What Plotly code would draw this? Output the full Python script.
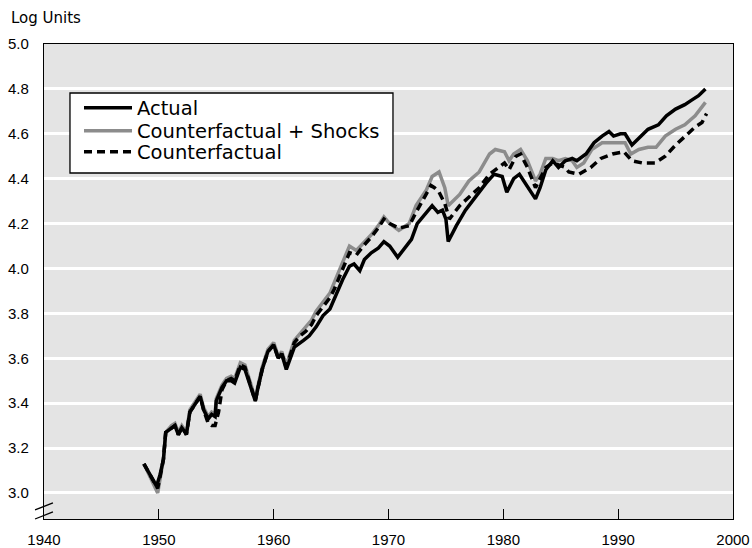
import plotly.graph_objects as go

# ---- data ----
actual_years = [1948.7, 1949.8, 1950.1, 1950.4, 1950.6, 1951.1, 1951.4, 1951.7, 1952.0, 1952.3,
                1952.4, 1952.7, 1953.2, 1953.6, 1953.9, 1954.3, 1954.6, 1954.9, 1955.0, 1955.5,
                1955.9, 1956.3, 1956.6, 1957.1, 1957.5, 1957.9, 1958.4, 1958.6, 1959.0, 1959.5,
                1960.0, 1960.4, 1960.7, 1961.1, 1961.5, 1961.8, 1962.6, 1963.1, 1963.7, 1964.3,
                1964.9, 1965.5, 1966.0, 1966.6, 1967.0, 1967.5, 1967.9, 1968.5, 1969.1, 1969.6,
                1970.1, 1970.8, 1971.4, 1972.0, 1972.5, 1973.3, 1973.8, 1974.3, 1974.7, 1975.0,
                1975.2, 1975.9, 1976.7, 1977.6, 1978.5, 1979.2, 1979.9, 1980.3, 1980.9, 1981.4,
                1981.9, 1982.8, 1983.2, 1983.7, 1984.3, 1984.8, 1985.4, 1986.0, 1986.4, 1987.2,
                1987.9, 1988.6, 1989.2, 1989.6, 1990.2, 1990.6, 1991.2, 1991.8, 1992.6, 1993.5,
                1994.2, 1995.0, 1995.8, 1996.4, 1997.0, 1997.6]
actual_values = [3.13, 3.03, 3.08, 3.15, 3.27, 3.29, 3.30, 3.26, 3.29, 3.27,
                 3.26, 3.36, 3.40, 3.43, 3.37, 3.33, 3.35, 3.34, 3.41, 3.47,
                 3.50, 3.50, 3.49, 3.56, 3.55, 3.49, 3.41, 3.46, 3.55, 3.63,
                 3.66, 3.60, 3.62, 3.55, 3.61, 3.65, 3.68, 3.70, 3.74, 3.79,
                 3.82, 3.89, 3.95, 4.01, 4.02, 3.99, 4.04, 4.07, 4.09, 4.12,
                 4.10, 4.05, 4.09, 4.13, 4.20, 4.25, 4.28, 4.25, 4.26, 4.22,
                 4.12, 4.19, 4.26, 4.32, 4.38, 4.42, 4.41, 4.34, 4.40, 4.42,
                 4.38, 4.31, 4.36, 4.44, 4.48, 4.45, 4.48, 4.49, 4.48, 4.51,
                 4.56, 4.59, 4.61, 4.59, 4.60, 4.60, 4.55, 4.58, 4.62, 4.64,
                 4.68, 4.71, 4.73, 4.75, 4.77, 4.80]

shocks_years = [1948.7, 1949.9, 1950.1, 1950.4, 1950.6, 1951.1, 1951.4, 1951.7, 1952.0, 1952.3,
                1952.4, 1952.7, 1953.2, 1953.6, 1953.9, 1954.3, 1954.6, 1954.9, 1955.0, 1955.5,
                1955.9, 1956.3, 1956.6, 1957.1, 1957.5, 1957.9, 1958.4, 1958.6, 1959.0, 1959.5,
                1960.0, 1960.4, 1960.7, 1961.1, 1961.5, 1961.8, 1962.3, 1962.8, 1963.3, 1963.7,
                1964.3, 1964.9, 1965.3, 1965.7, 1966.1, 1966.6, 1967.2, 1967.8, 1968.5, 1969.1,
                1969.6, 1970.1, 1970.9, 1971.8, 1972.4, 1973.3, 1973.8, 1974.4, 1974.9, 1975.2,
                1976.2, 1977.0, 1977.9, 1978.8, 1979.3, 1980.1, 1980.5, 1980.9, 1981.5, 1982.1,
                1982.8, 1983.2, 1983.7, 1984.3, 1984.8, 1985.4, 1986.0, 1986.4, 1987.0, 1987.7,
                1988.6, 1989.3, 1990.0, 1990.6, 1991.1, 1991.8, 1992.6, 1993.3, 1994.1, 1995.0,
                1995.8, 1996.7, 1997.6]
shocks_values = [3.13, 3.00, 3.06, 3.15, 3.27, 3.30, 3.31, 3.27, 3.30, 3.28,
                 3.27, 3.37, 3.41, 3.44, 3.38, 3.34, 3.36, 3.35, 3.42, 3.48,
                 3.51, 3.52, 3.51, 3.58, 3.57, 3.50, 3.42, 3.47, 3.56, 3.64,
                 3.67, 3.61, 3.63, 3.57, 3.63, 3.68, 3.71, 3.74, 3.77, 3.81,
                 3.85, 3.89, 3.94, 3.99, 4.04, 4.10, 4.08, 4.11, 4.15, 4.19,
                 4.23, 4.20, 4.17, 4.20, 4.28, 4.35, 4.41, 4.43, 4.36, 4.28,
                 4.33, 4.39, 4.43, 4.51, 4.53, 4.52, 4.48, 4.51, 4.53, 4.48,
                 4.39, 4.42, 4.49, 4.49, 4.48, 4.49, 4.48, 4.45, 4.47, 4.53,
                 4.56, 4.56, 4.56, 4.56, 4.51, 4.53, 4.54, 4.54, 4.59, 4.62,
                 4.64, 4.68, 4.74]

cf_years = [1948.7, 1949.9, 1950.1, 1950.4, 1950.6, 1951.1, 1951.4, 1951.7, 1952.0, 1952.3,
            1952.4, 1952.7, 1953.2, 1953.6, 1953.9, 1954.3, 1954.6, 1954.9, 1955.2, 1955.5,
            1955.9, 1956.3, 1956.6, 1957.1, 1957.5, 1957.9, 1958.4, 1958.6, 1959.0, 1959.5,
            1960.0, 1960.4, 1960.7, 1961.1, 1961.5, 1961.8, 1962.3, 1962.8, 1963.3, 1963.7,
            1964.3, 1964.9, 1965.3, 1965.7, 1966.1, 1966.6, 1967.2, 1967.8, 1968.5, 1969.1,
            1969.6, 1970.1, 1970.9, 1971.8, 1972.4, 1973.3, 1973.7, 1974.0, 1974.4, 1974.9,
            1975.3, 1976.2, 1977.0, 1977.9, 1978.8, 1979.3, 1980.1, 1980.5, 1981.1, 1981.5,
            1982.1, 1982.8, 1983.2, 1983.7, 1984.3, 1984.8, 1985.4, 1985.7, 1986.6, 1987.6,
            1988.5, 1989.5, 1990.5, 1991.2, 1992.1, 1993.2, 1994.1, 1995.0, 1995.8, 1996.7,
            1997.3, 1997.7]
cf_values = [3.13, 3.02, 3.07, 3.15, 3.27, 3.29, 3.30, 3.26, 3.29, 3.27,
             3.26, 3.36, 3.40, 3.43, 3.37, 3.31, 3.30, 3.30, 3.36, 3.46,
             3.50, 3.51, 3.50, 3.57, 3.56, 3.49, 3.41, 3.46, 3.55, 3.63,
             3.66, 3.60, 3.62, 3.56, 3.62, 3.67, 3.70, 3.72, 3.75, 3.79,
             3.83, 3.87, 3.91, 3.96, 4.01, 4.07, 4.06, 4.10, 4.14, 4.18,
             4.22, 4.20, 4.18, 4.19, 4.25, 4.33, 4.37, 4.36, 4.34, 4.29,
             4.22, 4.28, 4.32, 4.36, 4.42, 4.44, 4.47, 4.44, 4.50, 4.51,
             4.45, 4.36, 4.40, 4.45, 4.47, 4.46, 4.45, 4.43, 4.42, 4.45,
             4.49, 4.51, 4.52, 4.48, 4.47, 4.47, 4.50, 4.55, 4.59, 4.63,
             4.65, 4.69]

series_names = ["Actual", "Counterfactual + Shocks", "Counterfactual"]
x_ticks = [1940, 1950, 1960, 1970, 1980, 1990, 2000]
y_ticks = [3.0, 3.2, 3.4, 3.6, 3.8, 4.0, 4.2, 4.4, 4.6, 4.8, 5.0]

fig = go.Figure()
# draw order: gray, dashed, black on top
fig.add_trace(go.Scatter(x=shocks_years, y=shocks_values, mode="lines", name=series_names[1],
                         line=dict(color="#8c8c8c", width=3.5), legend="legend2"))
fig.add_trace(go.Scatter(x=cf_years, y=cf_values, mode="lines", name=series_names[2],
                         line=dict(color="black", width=3.5, dash="8px,5px"), legend="legend3"))
fig.add_trace(go.Scatter(x=actual_years, y=actual_values, mode="lines", name=series_names[0],
                         line=dict(color="black", width=3.5), legend="legend"))

tick_font = dict(family="Arial", size=15, color="black")
leg_font = dict(family="DejaVu Sans", size=19.5, color="black")
leg_common = dict(x=0.0508, xanchor="left", yanchor="middle", bgcolor="rgba(0,0,0,0)",
                  borderwidth=0, font=leg_font, itemwidth=48)

fig.update_layout(
    width=752, height=548, autosize=False,
    margin=dict(l=44, r=19, t=44, b=29),
    paper_bgcolor="white", plot_bgcolor="#e4e4e4",
    showlegend=True,
    legend=dict(y=0.8653, **leg_common),
    legend2=dict(y=0.8168, **leg_common),
    legend3=dict(y=0.7726, **leg_common),
    xaxis=dict(range=[1940, 2000], tickvals=x_ticks, ticktext=[str(v) for v in x_ticks],
               showgrid=False, zeroline=False, showline=True, linecolor="black", linewidth=1.3,
               mirror=True, ticks="inside", ticklen=10, tickwidth=1.3, tickcolor="black",
               tickfont=tick_font, ticklabelstandoff=7, automargin=False),
    yaxis=dict(range=[2.884, 5.0], tickvals=y_ticks, ticktext=[f"{v:.1f}" for v in y_ticks],
               showgrid=True, gridcolor="white", gridwidth=3, zeroline=False,
               showline=True, linecolor="black", linewidth=1.3, mirror=True, ticks="",
               tickfont=tick_font, ticklabelstandoff=11, automargin=False),
)

# legend frame
fig.add_shape(type="rect", xref="paper", yref="paper", x0=0.0377, x1=0.5065, y0=0.7284, y1=0.8968,
              fillcolor="white", line=dict(color="black", width=1.3), layer="above")

fig.add_annotation(text="Log Units", xref="paper", yref="paper", x=-0.051, y=1.055,
                   xanchor="left", yanchor="middle", showarrow=False,
                   font=dict(family="DejaVu Sans", size=15, color="black"))

# axis break marks on the y axis
for y0, y1 in [(0.019, 0.034), (0.0, 0.015)]:
    fig.add_shape(type="line", xref="paper", yref="paper", x0=-0.013, x1=0.013, y0=y0, y1=y1,
                  line=dict(color="black", width=1.3))

fig.write_html("out.html", config={"displayModeBar": False},
               post_script="document.body.style.margin='0';document.body.style.padding='0';")
